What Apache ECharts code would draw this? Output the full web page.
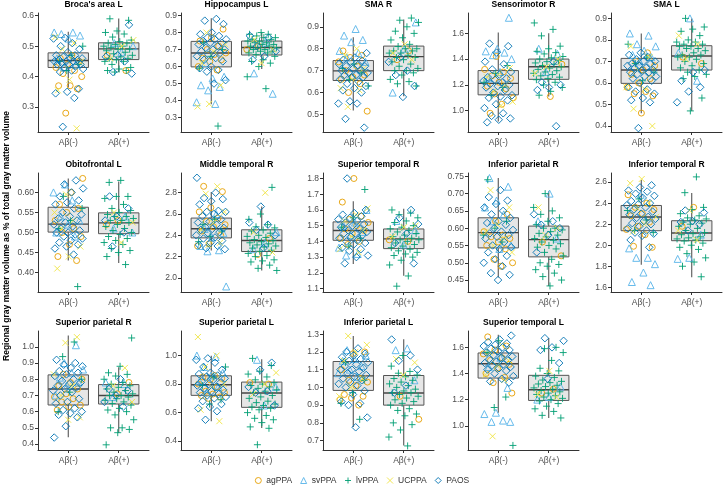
<!DOCTYPE html>
<html><head><meta charset="utf-8">
<script src="https://cdn.jsdelivr.net/npm/echarts@6.0.0/dist/echarts.min.js"></script>
<style>html,body{margin:0;padding:0;background:#fff}#chart{width:724px;height:486px}</style>
</head><body><div id="chart"></div>
<script>
// ---------- categories ----------
const groups = ['Aβ(-)', 'Aβ(+)'];
const diagnoses = ['agPPA', 'svPPA', 'lvPPA', 'UCPPA', 'PAOS'];
const yTitle = 'Regional gray matter volume as % of total gray matter volume';

// ---------- data: per panel, [agPPA, svPPA, lvPPA, UCPPA, PAOS] values per Aβ group ----------
// box stats: [lower whisker, Q1, median, Q3, upper whisker] for Aβ(-), Aβ(+)

// Broca's area L
const broca_neg = [
  [0.47,0.46,0.45,0.44,0.43,0.42,0.41,0.40,0.37,0.37,0.36,0.28],
  [0.545,0.545,0.54,0.535,0.525,0.46,0.44,0.43],
  [0.50,0.47,0.45,0.44,0.42],
  [0.53,0.51,0.49,0.45,0.39,0.355,0.23],
  [0.527,0.525,0.51,0.50,0.49,0.48,0.47,0.47,0.465,0.46,0.46,0.455,0.455,0.45,0.45,0.45,0.445,0.44,0.44,0.44,0.435,0.43,0.425,0.42,0.415,0.36,0.35,0.345,0.33,0.235]];
const broca_pos = [
  [0.47,0.42],
  [0.51,0.50,0.48],
  [0.59,0.585,0.55,0.545,0.54,0.53,0.52,0.515,0.51,0.51,0.505,0.50,0.50,0.495,0.49,0.49,0.485,0.48,0.475,0.47,0.465,0.46,0.46,0.455,0.45,0.45,0.44,0.43,0.425,0.42,0.42,0.415],
  [0.52,0.50,0.46],
  [0.57,0.47,0.465,0.45,0.415,0.41]];
const broca_box = [[0.364,0.430,0.453,0.478,0.547],[0.415,0.456,0.491,0.511,0.591]];
const broca_ticks = [0.3,0.4,0.5,0.6];
const broca_lim = [0.218,0.609];

// Hippocampus L
const hippo_neg = [
  [0.82,0.77,0.75,0.72,0.70,0.68,0.67,0.65,0.64,0.63,0.60,0.58],
  [0.62,0.54,0.53,0.49,0.48,0.46,0.39,0.38],
  [0.74,0.70,0.66,0.59,0.25],
  [0.80,0.73,0.69,0.62,0.49,0.38,0.365],
  [0.88,0.87,0.85,0.80,0.79,0.78,0.77,0.76,0.76,0.75,0.74,0.74,0.73,0.72,0.71,0.70,0.70,0.69,0.68,0.67,0.66,0.65,0.64,0.63,0.60,0.59,0.58,0.57,0.52,0.50]];
const hippo_pos = [
  [0.72,0.70],
  [0.74,0.56,0.44],
  [0.80,0.79,0.79,0.78,0.77,0.77,0.76,0.76,0.75,0.75,0.74,0.74,0.73,0.73,0.72,0.72,0.71,0.71,0.70,0.70,0.69,0.69,0.68,0.68,0.67,0.66,0.64,0.63,0.62,0.60,0.54,0.47],
  [0.76,0.70,0.62],
  [0.78,0.77,0.72,0.69,0.66,0.64]];
const hippo_box = [[0.378,0.598,0.680,0.748,0.884],[0.585,0.668,0.712,0.750,0.800]];
const hippo_ticks = [0.3,0.4,0.5,0.6,0.7,0.8,0.9];
const hippo_lim = [0.215,0.915];

// SMA R
const smaR_neg = [
  [0.79,0.77,0.76,0.74,0.72,0.70,0.68,0.67,0.66,0.64,0.60,0.515],
  [0.89,0.86,0.84,0.83,0.79,0.78,0.76,0.74],
  [0.73,0.71,0.69,0.66,0.63],
  [0.80,0.77,0.71,0.66,0.62,0.61,0.535],
  [0.78,0.76,0.75,0.745,0.74,0.73,0.725,0.72,0.72,0.71,0.70,0.70,0.69,0.69,0.68,0.68,0.67,0.67,0.66,0.65,0.64,0.63,0.62,0.61,0.60,0.56,0.55,0.55,0.48,0.44]];
const smaR_pos = [
  [0.79,0.75],
  [0.92,0.80,0.60],
  [0.94,0.93,0.92,0.90,0.88,0.87,0.85,0.84,0.82,0.81,0.80,0.80,0.79,0.79,0.78,0.78,0.77,0.76,0.76,0.75,0.74,0.73,0.72,0.71,0.70,0.70,0.69,0.68,0.66,0.65,0.64,0.63],
  [0.82,0.78,0.75],
  [0.76,0.74,0.70,0.68,0.63,0.58]];
const smaR_box = [[0.518,0.655,0.699,0.746,0.852],[0.583,0.700,0.764,0.812,0.933]];
const smaR_ticks = [0.5,0.6,0.7,0.8,0.9];
const smaR_lim = [0.42,0.963];

// Sensorimotor R
const senso_neg = [
  [1.42,1.32,1.30,1.27,1.25,1.22,1.19,1.17,1.13,1.10,1.05,0.98],
  [1.72,1.48,1.46,1.45,1.43,1.40,1.30,1.25],
  [1.35,1.29,1.22,1.18,1.12],
  [1.33,1.28,1.26,1.20,1.15,1.07,1.04],
  [1.52,1.50,1.45,1.38,1.36,1.32,1.30,1.28,1.26,1.25,1.24,1.23,1.22,1.21,1.20,1.19,1.18,1.16,1.14,1.12,1.11,1.10,1.08,1.05,1.02,0.98,0.96,0.94,0.93,0.91]];
const senso_pos = [
  [1.36,1.11],
  [1.48,1.44,1.30],
  [1.68,1.63,1.58,1.50,1.48,1.46,1.45,1.44,1.42,1.41,1.40,1.39,1.38,1.37,1.36,1.35,1.34,1.33,1.32,1.31,1.30,1.29,1.28,1.27,1.26,1.25,1.24,1.22,1.20,1.18,1.15,1.12],
  [1.40,1.34,1.29],
  [1.38,1.22,1.20,1.18,1.16,0.88]];
const senso_box = [[0.916,1.123,1.212,1.311,1.605],[1.110,1.243,1.340,1.400,1.600]];
const senso_ticks = [1.0,1.2,1.4,1.6];
const senso_lim = [0.835,1.757];

// SMA L
const smaL_neg = [
  [0.74,0.70,0.68,0.66,0.64,0.62,0.60,0.58,0.56,0.55,0.54,0.46],
  [0.83,0.82,0.78,0.77,0.75,0.73,0.72,0.70],
  [0.78,0.72,0.69,0.65,0.61],
  [0.77,0.72,0.66,0.58,0.57,0.48,0.40],
  [0.74,0.73,0.72,0.71,0.70,0.70,0.69,0.69,0.68,0.68,0.67,0.67,0.66,0.66,0.65,0.65,0.64,0.63,0.63,0.62,0.61,0.60,0.58,0.57,0.56,0.55,0.53,0.52,0.51,0.39]];
const smaL_pos = [
  [0.72,0.69],
  [0.90,0.74,0.61],
  [0.90,0.86,0.85,0.84,0.82,0.80,0.79,0.79,0.78,0.78,0.77,0.77,0.76,0.76,0.75,0.74,0.73,0.73,0.72,0.72,0.71,0.70,0.69,0.68,0.67,0.66,0.65,0.64,0.63,0.62,0.53,0.47],
  [0.82,0.78,0.71],
  [0.66,0.65,0.61,0.58,0.56,0.51]];
const smaL_box = [[0.459,0.598,0.660,0.714,0.830],[0.470,0.660,0.725,0.773,0.900]];
const smaL_ticks = [0.4,0.5,0.6,0.7,0.8,0.9];
const smaL_lim = [0.372,0.925];

// Obitofrontal L
const orbi_neg = [
  [0.635,0.60,0.57,0.56,0.55,0.53,0.51,0.50,0.49,0.47,0.44,0.43],
  [0.62,0.60,0.58,0.54,0.53,0.52,0.50,0.49],
  [0.59,0.56,0.53,0.51,0.365],
  [0.595,0.55,0.53,0.51,0.465,0.44,0.41],
  [0.63,0.62,0.61,0.60,0.59,0.58,0.575,0.57,0.56,0.55,0.545,0.54,0.535,0.53,0.525,0.52,0.515,0.51,0.505,0.50,0.50,0.495,0.49,0.485,0.48,0.475,0.47,0.465,0.46,0.445]];
const orbi_pos = [
  [0.53,0.52],
  [0.54,0.51,0.50],
  [0.63,0.625,0.59,0.59,0.585,0.57,0.56,0.555,0.55,0.545,0.54,0.54,0.535,0.53,0.53,0.525,0.52,0.515,0.51,0.505,0.50,0.495,0.49,0.485,0.48,0.475,0.47,0.46,0.455,0.45,0.44,0.42],
  [0.55,0.525,0.475],
  [0.59,0.56,0.54,0.53,0.50,0.465]];
const orbi_box = [[0.430,0.501,0.521,0.563,0.635],[0.424,0.497,0.524,0.549,0.627]];
const orbi_ticks = [0.40,0.45,0.50,0.55,0.60];
const orbi_lim = [0.3515,0.6485];

// Middle temporal R
const midT_neg = [
  [2.86,2.81,2.66,2.62,2.56,2.53,2.50,2.48,2.44,2.40,2.32,2.30],
  [2.60,2.46,2.42,2.38,2.30,2.26,2.25,1.92],
  [2.55,2.50,2.44,2.39,2.34],
  [2.86,2.79,2.62,2.52,2.45,2.33,2.31],
  [2.94,2.80,2.75,2.74,2.72,2.69,2.63,2.62,2.62,2.60,2.58,2.55,2.53,2.52,2.50,2.48,2.47,2.46,2.45,2.43,2.42,2.40,2.38,2.37,2.35,2.33,2.31,2.30,2.28,2.27]];
const midT_pos = [
  [2.37,2.22],
  [2.43,2.33,2.27],
  [2.85,2.60,2.55,2.50,2.48,2.47,2.45,2.44,2.42,2.40,2.39,2.38,2.36,2.35,2.34,2.33,2.32,2.31,2.30,2.29,2.28,2.26,2.25,2.23,2.21,2.20,2.17,2.16,2.15,2.12,2.09,2.07],
  [2.80,2.43,2.24],
  [2.67,2.52,2.50,2.45,2.40,2.28]];
const midT_box = [[2.257,2.376,2.461,2.562,2.806],[2.069,2.248,2.351,2.452,2.670]];
const midT_ticks = [2.0,2.2,2.4,2.6,2.8];
const midT_lim = [1.868,2.985];

// Superior temporal R
const supTR_neg = [
  [1.80,1.65,1.56,1.54,1.52,1.50,1.48,1.47,1.45,1.42,1.40,1.38],
  [1.60,1.52,1.50,1.46,1.44,1.36,1.32,1.31],
  [1.73,1.55,1.49,1.42,1.37],
  [1.61,1.57,1.53,1.47,1.43,1.35,1.33],
  [1.80,1.60,1.58,1.57,1.56,1.55,1.54,1.53,1.52,1.51,1.50,1.49,1.48,1.47,1.46,1.45,1.45,1.44,1.43,1.42,1.41,1.40,1.39,1.38,1.36,1.35,1.34,1.31,1.30,1.26]];
const supTR_pos = [
  [1.41,1.40],
  [1.53,1.47,1.38],
  [1.60,1.58,1.57,1.55,1.53,1.52,1.50,1.49,1.48,1.47,1.46,1.45,1.44,1.43,1.42,1.41,1.41,1.40,1.39,1.38,1.37,1.36,1.35,1.34,1.33,1.32,1.31,1.30,1.28,1.25,1.18,1.115],
  [1.50,1.49,1.43],
  [1.60,1.55,1.51,1.45,1.39,1.26]];
const supTR_box = [[1.256,1.407,1.469,1.524,1.656],[1.182,1.354,1.416,1.479,1.607]];
const supTR_ticks = [1.1,1.2,1.3,1.4,1.5,1.6,1.7,1.8];
const supTR_lim = [1.078,1.835];

// Inferior parietal R
const infPR_neg = [
  [0.64,0.62,0.59,0.58,0.575,0.57,0.56,0.55,0.54,0.51,0.50,0.49],
  [0.745,0.72,0.68,0.66,0.64,0.62,0.55,0.54],
  [0.74,0.62,0.60,0.58,0.56],
  [0.71,0.66,0.61,0.59,0.57,0.55,0.53],
  [0.71,0.69,0.68,0.67,0.66,0.65,0.64,0.63,0.62,0.615,0.61,0.60,0.595,0.59,0.585,0.58,0.575,0.57,0.56,0.55,0.545,0.54,0.53,0.52,0.51,0.50,0.49,0.47,0.465,0.45]];
const infPR_pos = [
  [0.56,0.52],
  [0.70,0.62,0.57],
  [0.70,0.66,0.65,0.64,0.63,0.62,0.61,0.60,0.60,0.595,0.59,0.585,0.58,0.575,0.57,0.565,0.56,0.555,0.55,0.545,0.54,0.53,0.52,0.51,0.50,0.495,0.49,0.48,0.47,0.46,0.45,0.433],
  [0.66,0.60,0.58],
  [0.64,0.62,0.61,0.60,0.58,0.53]];
const infPR_box = [[0.457,0.543,0.587,0.630,0.745],[0.433,0.517,0.567,0.606,0.707]];
const infPR_ticks = [0.45,0.50,0.55,0.60,0.65,0.70,0.75];
const infPR_lim = [0.4154,0.7596];

// Inferior temporal R
const infTR_neg = [
  [2.48,2.40,2.36,2.34,2.30,2.28,2.22,2.18,2.15,2.10,1.99,1.98],
  [2.48,1.97,1.88,1.88,1.82,1.74,1.65,1.62],
  [2.44,2.33,2.24,2.14,2.12],
  [2.63,2.59,2.40,2.35,2.27,2.20,2.13],
  [2.57,2.55,2.52,2.51,2.49,2.47,2.45,2.42,2.40,2.39,2.38,2.36,2.34,2.32,2.30,2.29,2.27,2.26,2.25,2.23,2.21,2.20,2.18,2.16,2.14,2.12,2.11,2.09,2.05,1.98]];
const infTR_pos = [
  [2.36,2.18],
  [2.10,1.88,1.87],
  [2.65,2.50,2.36,2.34,2.30,2.28,2.26,2.25,2.24,2.22,2.21,2.20,2.18,2.16,2.14,2.12,2.11,2.10,2.08,2.07,2.06,2.05,2.04,2.02,2.00,1.98,1.96,1.92,1.88,1.84,1.80,1.70],
  [2.33,2.14,2.05],
  [2.33,2.31,2.23,2.22,2.20,2.14]];
const infTR_box = [[1.815,2.138,2.268,2.378,2.620],[1.695,2.043,2.116,2.233,2.496]];
const infTR_ticks = [1.6,1.8,2.0,2.2,2.4,2.6];
const infTR_lim = [1.555,2.687];

// Superior parietal R
const supPR_neg = [
  [0.83,0.80,0.78,0.76,0.74,0.71,0.69,0.68,0.66,0.64,0.63,0.61],
  [1.01,0.90,0.86,0.84,0.81,0.78,0.76,0.70],
  [1.03,0.94,0.80,0.72,0.60],
  [1.06,1.025,0.83,0.76,0.70,0.565,0.55],
  [0.92,0.90,0.89,0.88,0.87,0.85,0.84,0.83,0.82,0.80,0.79,0.78,0.77,0.76,0.75,0.74,0.73,0.72,0.70,0.68,0.66,0.65,0.62,0.61,0.60,0.59,0.58,0.565,0.51,0.44]];
const supPR_pos = [
  [0.78,0.71],
  [0.78,0.77,0.69],
  [1.055,0.88,0.84,0.83,0.82,0.80,0.78,0.77,0.76,0.75,0.74,0.73,0.72,0.71,0.70,0.70,0.69,0.68,0.67,0.66,0.65,0.64,0.62,0.61,0.60,0.58,0.55,0.50,0.50,0.49,0.47,0.395],
  [0.87,0.76,0.66],
  [0.80,0.74,0.73,0.70,0.66,0.63]];
const supPR_box = [[0.441,0.641,0.740,0.827,1.070],[0.468,0.647,0.700,0.767,0.874]];
const supPR_ticks = [0.4,0.5,0.6,0.7,0.8,0.9,1.0];
const supPR_lim = [0.363,1.098];

// Superior parietal L
const supPL_neg = [
  [0.86,0.85,0.84,0.83,0.80,0.78,0.75,0.74,0.73,0.72,0.71,0.70],
  [1.00,0.99,0.92,0.88,0.86,0.82,0.78,0.74],
  [0.92,0.85,0.79,0.69,0.66],
  [1.13,1.00,0.92,0.80,0.78,0.62,0.54],
  [0.98,0.97,0.95,0.92,0.90,0.88,0.87,0.86,0.85,0.84,0.83,0.82,0.81,0.80,0.79,0.78,0.77,0.76,0.75,0.74,0.73,0.72,0.71,0.70,0.68,0.66,0.64,0.63,0.61,0.55]];
const supPL_pos = [
  [0.81,0.80],
  [0.97,0.78,0.65],
  [0.98,0.93,0.89,0.87,0.85,0.83,0.81,0.80,0.79,0.78,0.77,0.76,0.75,0.74,0.72,0.71,0.70,0.68,0.67,0.66,0.65,0.64,0.63,0.62,0.60,0.58,0.56,0.55,0.53,0.50,0.49,0.375],
  [0.88,0.80,0.73],
  [0.95,0.90,0.78,0.75,0.74,0.65]];
const supPL_box = [[0.540,0.721,0.795,0.858,0.998],[0.493,0.637,0.737,0.814,0.974]];
const supPL_ticks = [0.4,0.6,0.8,1.0];
const supPL_lim = [0.338,1.172];

// Inferior parietal L
const infPL_neg = [
  [1.20,1.19,1.10,1.05,1.04,1.03,1.01,0.96,0.95,0.94,0.93,0.90],
  [1.21,1.18,1.16,1.15,1.12,1.10,1.08,1.06],
  [1.14,1.04,0.97,0.91,0.82],
  [1.29,1.24,1.20,1.15,1.05,1.00,0.95],
  [1.22,1.20,1.19,1.18,1.17,1.16,1.15,1.14,1.13,1.12,1.11,1.10,1.10,1.09,1.08,1.07,1.06,1.05,1.04,1.03,1.02,1.01,1.00,0.98,0.96,0.92,0.91,0.90,0.83,0.775]];
const infPL_pos = [
  [0.95,0.82],
  [1.22,1.21,1.04],
  [1.18,1.12,1.09,1.08,1.07,1.06,1.05,1.04,1.03,1.02,1.01,1.00,0.99,0.98,0.97,0.97,0.96,0.95,0.94,0.93,0.92,0.91,0.90,0.88,0.87,0.85,0.84,0.80,0.79,0.76,0.72,0.67],
  [1.16,1.14,1.07],
  [1.27,1.18,1.15,1.10,1.01,0.97]];
const infPL_box = [[0.777,0.983,1.065,1.146,1.290],[0.673,0.900,0.968,1.067,1.272]];
const infPL_ticks = [0.7,0.8,0.9,1.0,1.1,1.2,1.3];
const infPL_lim = [0.647,1.318];

// Superior temporal L
const supTL_neg = [
  [1.68,1.61,1.58,1.55,1.52,1.50,1.47,1.44,1.40,1.37,1.33,1.25],
  [1.52,1.45,1.29,1.10,1.09,1.04,1.03,1.03],
  [1.65,1.56,1.22,1.14,0.85],
  [1.62,1.56,1.50,1.46,1.39,1.35,0.92],
  [1.69,1.66,1.64,1.63,1.62,1.61,1.60,1.59,1.58,1.57,1.56,1.55,1.54,1.53,1.52,1.51,1.50,1.49,1.48,1.47,1.46,1.45,1.44,1.43,1.42,1.40,1.38,1.36,1.34,1.33]];
const supTL_pos = [
  [1.28,1.25],
  [1.30,1.22,1.20],
  [1.60,1.59,1.56,1.50,1.44,1.42,1.40,1.38,1.37,1.35,1.34,1.33,1.32,1.31,1.30,1.29,1.28,1.27,1.26,1.25,1.24,1.23,1.22,1.21,1.20,1.19,1.17,1.15,1.13,1.11,1.08,1.06],
  [1.42,1.24,1.22],
  [1.67,1.65,1.60,1.58,1.48,1.36]];
const supTL_box = [[1.100,1.365,1.475,1.557,1.697],[1.059,1.194,1.276,1.386,1.671]];
const supTL_ticks = [1.0,1.2,1.4,1.6];
const supTL_lim = [0.815,1.725];

// ---------- panel table built from the arrays ----------
const panels = [
  {title:"Broca's area L", neg:broca_neg, pos:broca_pos, box:broca_box, ticks:broca_ticks, lim:broca_lim, dec:1},
  {title:'Hippocampus L', neg:hippo_neg, pos:hippo_pos, box:hippo_box, ticks:hippo_ticks, lim:hippo_lim, dec:1},
  {title:'SMA R', neg:smaR_neg, pos:smaR_pos, box:smaR_box, ticks:smaR_ticks, lim:smaR_lim, dec:1},
  {title:'Sensorimotor R', neg:senso_neg, pos:senso_pos, box:senso_box, ticks:senso_ticks, lim:senso_lim, dec:1},
  {title:'SMA L', neg:smaL_neg, pos:smaL_pos, box:smaL_box, ticks:smaL_ticks, lim:smaL_lim, dec:1},
  {title:'Obitofrontal L', neg:orbi_neg, pos:orbi_pos, box:orbi_box, ticks:orbi_ticks, lim:orbi_lim, dec:2},
  {title:'Middle temporal R', neg:midT_neg, pos:midT_pos, box:midT_box, ticks:midT_ticks, lim:midT_lim, dec:1},
  {title:'Superior temporal R', neg:supTR_neg, pos:supTR_pos, box:supTR_box, ticks:supTR_ticks, lim:supTR_lim, dec:1},
  {title:'Inferior parietal R', neg:infPR_neg, pos:infPR_pos, box:infPR_box, ticks:infPR_ticks, lim:infPR_lim, dec:2},
  {title:'Inferior temporal R', neg:infTR_neg, pos:infTR_pos, box:infTR_box, ticks:infTR_ticks, lim:infTR_lim, dec:1},
  {title:'Superior parietal R', neg:supPR_neg, pos:supPR_pos, box:supPR_box, ticks:supPR_ticks, lim:supPR_lim, dec:1},
  {title:'Superior parietal L', neg:supPL_neg, pos:supPL_pos, box:supPL_box, ticks:supPL_ticks, lim:supPL_lim, dec:1},
  {title:'Inferior parietal L', neg:infPL_neg, pos:infPL_pos, box:infPL_box, ticks:infPL_ticks, lim:infPL_lim, dec:1},
  {title:'Superior temporal L', neg:supTL_neg, pos:supTL_pos, box:supTL_box, ticks:supTL_ticks, lim:supTL_lim, dec:1}
];

// ---------- layout & style ----------
const colLeft = [38, 181, 323, 468, 611];
const rowTop = [13, 173, 331];
const PW = 111, PH = 119;
const FONT = 'Liberation Sans, Arial, sans-serif';
const dxColor = {agPPA:'#E69F00', svPPA:'#56B4E9', lvPPA:'#009E73', UCPPA:'#F0E442', PAOS:'#0072B2'};
const dxSymbol = {agPPA:'circle', svPPA:'triangle', lvPPA:'path://M0,5L10,5M5,0L5,10', UCPPA:'path://M0,0L10,10M0,10L10,0', PAOS:'diamond'};
const dxSize = {agPPA:6, svPPA:7, lvPPA:7, UCPPA:6, PAOS:7.5};
const JIT = 0.3;

function boxRender(params, api) {
  const x = api.value(0);
  const c = i => api.coord([x, api.value(i)]);
  const lo = c(1), q1 = c(2), md = c(3), q3 = c(4), hi = c(5);
  const hw = api.size([0.8, 0])[0] / 2;
  const cx = lo[0];
  const st = {stroke:'#555', lineWidth:1.1};
  return {type:'group', children:[
    {type:'line', shape:{x1:cx, y1:q1[1], x2:cx, y2:lo[1]}, style:st},
    {type:'line', shape:{x1:cx, y1:q3[1], x2:cx, y2:hi[1]}, style:st},
    {type:'rect', shape:{x:cx-hw, y:q3[1], width:2*hw, height:q1[1]-q3[1]}, style:{fill:'#e6e6e6', stroke:'#555', lineWidth:1}},
    {type:'line', shape:{x1:cx-hw, y1:md[1], x2:cx+hw, y2:md[1]}, style:{stroke:'#444', lineWidth:1.4}}
  ]};
}

const option = {
  animation:false, backgroundColor:'#fff',
  grid:[], xAxis:[], yAxis:[], series:[], graphic:[],
  legend:{data:diagnoses, left:'center', top:471, itemWidth:6, itemHeight:6, itemGap:8, selectedMode:false,
    itemStyle:{borderWidth:1},
    textStyle:{fontSize:8.5, color:'#333', fontFamily:FONT}}
};

panels.forEach((p, k) => {
  const col = k % 5, row = Math.floor(k / 5);
  const left = colLeft[col], top = rowTop[row];
  option.grid.push({left:left, top:top, width:PW, height:PH, containLabel:false, outerBoundsMode:'none'});
  option.xAxis.push({type:'value', gridIndex:k, min:0.4, max:2.6,
    axisLine:{show:true, onZero:false, lineStyle:{color:'#333', width:1}},
    axisTick:{show:true, customValues:[1,2], length:3, lineStyle:{color:'#333'}},
    axisLabel:{customValues:[1,2], formatter:v => groups[Math.round(v)-1], margin:6, fontSize:8.5, color:'#4d4d4d', fontFamily:FONT},
    splitLine:{show:false}});
  option.yAxis.push({type:'value', gridIndex:k, min:p.lim[0], max:p.lim[1],
    axisLine:{show:true, onZero:false, lineStyle:{color:'#333', width:1}},
    axisTick:{show:true, customValues:p.ticks, length:3, lineStyle:{color:'#333'}},
    axisLabel:{customValues:p.ticks, formatter:v => Number(v).toFixed(p.dec), margin:4, fontSize:8.5, color:'#4d4d4d', fontFamily:FONT},
    splitLine:{show:false}});
  option.series.push({type:'custom', xAxisIndex:k, yAxisIndex:k, silent:true, z:1,
    data:p.box.map((b, g) => [g+1].concat(b)), encode:{x:0, y:[1,2,3,4,5]}, renderItem:boxRender});
  // deterministic jitter positions (low-discrepancy sequence), interleaving diagnoses
  const jitter = {};
  [p.neg, p.pos].forEach((grp, g) => {
    let idx = 0;
    grp.forEach((vals, d) => {
      vals.forEach((v, i) => {
        const f = ((idx + 1) * 0.6180339887 + k * 0.2718 + g * 0.5) % 1;
        (jitter[d] = jitter[d] || []).push([g + 1 + JIT * (2*f - 1), v]);
        idx++;
      });
    });
  });
  diagnoses.forEach((dx, d) => {
    option.series.push({type:'scatter', name:dx, xAxisIndex:k, yAxisIndex:k, silent:true, z:3,
      data:jitter[d] || [], symbol:dxSymbol[dx], symbolSize:dxSize[dx],
      itemStyle:{color:'rgba(0,0,0,0)', borderColor:dxColor[dx], borderWidth:1, opacity:0.9}});
  });
  option.graphic.push({type:'text', x:left + PW/2, y:top - 8, silent:true,
    style:{text:p.title, fontSize:8.5, fontWeight:'bold', fontFamily:FONT, fill:'#000',
      align:'center', verticalAlign:'middle', textAlign:'center', textVerticalAlign:'middle'}});
});

option.graphic.push({type:'text', x:7, y:236, rotation:Math.PI/2, silent:true,
  style:{text:yTitle, fontSize:8.5, fontWeight:'bold', fontFamily:FONT, fill:'#000',
    align:'center', verticalAlign:'middle', textAlign:'center', textVerticalAlign:'middle'}});

const chart = echarts.init(document.getElementById('chart'), null, {renderer:'canvas'});
chart.setOption(option);
</script>
</body></html>
